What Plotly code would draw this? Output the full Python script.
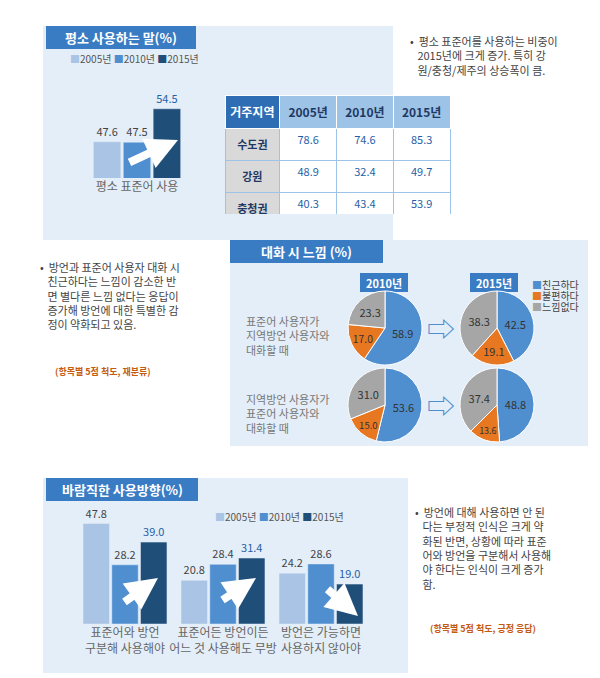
import plotly.graph_objects as go

W, H = 600, 678
def px(x): return x / W
def py(y): return 1 - y / H

years = ["2005년", "2010년", "2015년"]
daily_std = [47.6, 47.5, 54.5]
regions = ["수도권", "강원", "충청권", "전라권", "경상권", "제주"]
reg_2005 = ["78.6", "48.9", "40.3", "14.6", "8.4", "17.2"]
reg_2010 = ["74.6", "32.4", "43.4", "23.5", "8.7", "25.4"]
reg_2015 = ["85.3", "49.7", "53.9", "28.8", "6.1", "32.0"]
feel_labels = ["친근하다", "불편하다", "느낌없다"]
pie_std_2010 = [58.9, 17.0, 23.3]
pie_std_2015 = [42.5, 19.1, 38.3]
pie_dia_2010 = [53.6, 15.0, 31.0]
pie_dia_2015 = [48.8, 13.6, 37.4]
dir_cats = ["표준어와 방언<br>구분해 사용해야", "표준어든 방언이든<br>어느 것 사용해도 무방", "방언은 가능하면<br>사용하지 않아야"]
dir_2005 = [47.8, 20.8, 24.2]
dir_2010 = [28.2, 28.4, 28.6]
dir_2015 = [39.0, 31.4, 19.0]

C05, C10, C15 = "#a9c4e4", "#4f8fd0", "#1f4e79"
PIE_C = ["#4f8fd0", "#e87722", "#a6a6a6"]
FONT = "Noto Sans CJK KR"

fig = go.Figure()
shapes, ann = [], []

def box(x0, y0, x1, y1, fill, line="rgba(0,0,0,0)"):
    shapes.append(dict(type="rect", xref="paper", yref="paper", x0=px(x0), x1=px(x1),
                       y0=py(y1), y1=py(y0), fillcolor=fill, line=dict(color=line, width=1), layer="below"))

def text(x, y, t, size=11, color="#333", xa="left", ya="middle", bold=False, align="left"):
    if bold: t = "<b>" + t + "</b>"
    ann.append(dict(x=px(x), y=py(y), xref="paper", yref="paper", text=t, showarrow=False,
                    xanchor=xa, yanchor=ya, align=align, font=dict(size=size, color=color, family=FONT)))

box(35, 18, 385, 232, "#e4eef8")
box(222, 232, 580, 438, "#e4eef8")
box(35, 470, 400, 665, "#e4eef8")
for (x0, y0, x1, t) in [(38, 18, 188, "평소 사용하는 말(%)"), (222, 232, 375, "대화 시 느낌 (%)"), (38, 470, 190, "바람직한 사용방향(%)")]:
    box(x0, y0, x1, y0 + 23, "#3a7cc4")
    text((x0 + x1) / 2, y0 + 11.5, t, 13, "white", "center", bold=True)

for i, (v, c) in enumerate(zip(daily_std, [C05, C10, C15])):
    fig.add_trace(go.Bar(x=["평소 표준어 사용"], y=[v], name=years[i], marker_color=c, offsetgroup=i,
                         text=[f"{v:.1f}"], textposition="outside", xaxis="x", yaxis="y",
                         textfont=dict(color="#1f5fa8" if i == 2 else "#444", size=11, family=FONT),
                         showlegend=False))
text(60, 50, "<span style='color:#a9c4e4'>■</span>2005년 <span style='color:#4f8fd0'>■</span>2010년 <span style='color:#1f4e79'>■</span>2015년", 10, "#555")

fig.add_trace(go.Table(domain=dict(x=[px(217), px(443)], y=[py(207), py(87)]),
    columnwidth=[55, 57, 57, 57],
    header=dict(values=["<b>거주지역</b>"] + [f"<b>{y}</b>" for y in years], height=23,
                fill_color=["#2e6db4", "#9dc3e6", "#9dc3e6", "#9dc3e6"],
                font=dict(color=["white", "#1f3864", "#1f3864", "#1f3864"], size=12, family=FONT),
                line_color="white", align="center"),
    cells=dict(values=[[f"<b>{r}</b>" for r in regions], reg_2005, reg_2010, reg_2015], height=16,
               fill_color=["#d9d9d9", "white", "white", "white"],
               font=dict(color=["#1f3864", "#1f5fa8", "#1f5fa8", "#1f5fa8"], size=11, family=FONT),
               line_color="#9dc3e6", align="center")))

for vals, cx, cy in [(pie_std_2010, 377, 320), (pie_std_2015, 489, 320), (pie_dia_2010, 377, 397), (pie_dia_2015, 489, 397)]:
    r = 37
    fig.add_trace(go.Pie(values=vals, labels=feel_labels, sort=False, direction="clockwise", rotation=0,
                         marker=dict(colors=PIE_C, line=dict(color="white", width=1)),
                         texttemplate="%{value:.1f}", textposition="inside", insidetextorientation="horizontal",
                         textfont=dict(size=11, color="#333", family=FONT),
                         domain=dict(x=[px(cx - r), px(cx + r)], y=[py(cy + r), py(cy - r)]), showlegend=False))
for cx, t in [(376, "2010년"), (486, "2015년")]:
    box(cx - 24, 265, cx + 24, 284, "#3a7cc4")
    text(cx, 274.5, t, 11, "white", "center", bold=True)
for i, lab in enumerate(feel_labels):
    text(522, 276 + i * 11, f"<span style='color:{PIE_C[i]}'>■</span>{lab}", 10, "#444")
text(236, 327, "표준어 사용자가<br>지역방언 사용자와<br>대화할 때", 11, "#777")
text(236, 405, "지역방언 사용자가<br>표준어 사용자와<br>대화할 때", 11, "#777")
text(433, 320, "⇨", 28, "#4f8fd0", "center")
text(433, 397, "⇨", 28, "#4f8fd0", "center")

for i, (vals, c) in enumerate(zip([dir_2005, dir_2010, dir_2015], [C05, C10, C15])):
    fig.add_trace(go.Bar(x=dir_cats, y=vals, name=years[i], marker_color=c, xaxis="x2", yaxis="y2",
                         text=[f"{v:.1f}" for v in vals], textposition="outside",
                         textfont=dict(color="#1f5fa8" if i == 2 else "#444", size=11, family=FONT),
                         showlegend=False))
text(205, 508, "<span style='color:#a9c4e4'>■</span>2005년 <span style='color:#4f8fd0'>■</span>2010년 <span style='color:#1f4e79'>■</span>2015년", 10, "#555")

for (x0, y0, x1, y1) in [(120, 155, 170, 132), (115, 595, 150, 570), (213, 593, 248, 570), (318, 580, 350, 608)]:
    ann.append(dict(x=px(x1), y=py(y1), ax=x0 - x1, ay=y0 - y1, xref="paper", yref="paper",
                    axref="pixel", ayref="pixel",
                    showarrow=True, arrowhead=2, arrowsize=0.8, arrowwidth=8, arrowcolor="white", text=""))

text(400, 47, "•  평소 표준어를 사용하는 비중이<br>   2015년에 크게 증가. 특히 강<br>   원/충청/제주의 상승폭이 큼.", 11, "#444")
text(30, 287, "•  방언과 표준어 사용자 대화 시<br>   친근하다는 느낌이 감소한 반<br>   면 별다른 느낌 없다는 응답이<br>   증가해 방언에 대한 특별한 감<br>   정이 약화되고 있음.", 11, "#444")
text(45, 363, "(항목별 5점 척도, 재분류)", 9, "#c55a11", bold=True)
text(405, 540, "•  방언에 대해 사용하면 안 된<br>   다는 부정적 인식은 크게 약<br>   화된 반면, 상황에 따라 표준<br>   어와 방언을 구분해서 사용해<br>   야 한다는 인식이 크게 증가<br>   함.", 11, "#444")
text(420, 620, "(항목별 5점 척도, 긍정 응답)", 9, "#c55a11", bold=True)

axfont = dict(size=12, color="#666", family=FONT)
fig.update_layout(
    width=W, height=H, margin=dict(l=0, r=0, t=0, b=0), paper_bgcolor="white", plot_bgcolor="rgba(0,0,0,0)",
    barmode="group", bargap=0.12, bargroupgap=0.08,
    xaxis=dict(domain=[px(78), px(180)], anchor="y", showgrid=False, tickfont=axfont, ticks=""),
    yaxis=dict(domain=[py(170), py(85)], range=[40, 57.8], visible=False),
    xaxis2=dict(domain=[px(68), px(362)], anchor="y2", showgrid=False, tickfont=axfont, ticks=""),
    yaxis2=dict(domain=[py(616), py(490)], range=[0, 60], visible=False),
    shapes=shapes, annotations=ann, font=dict(family=FONT))
fig.write_html("out.html")
